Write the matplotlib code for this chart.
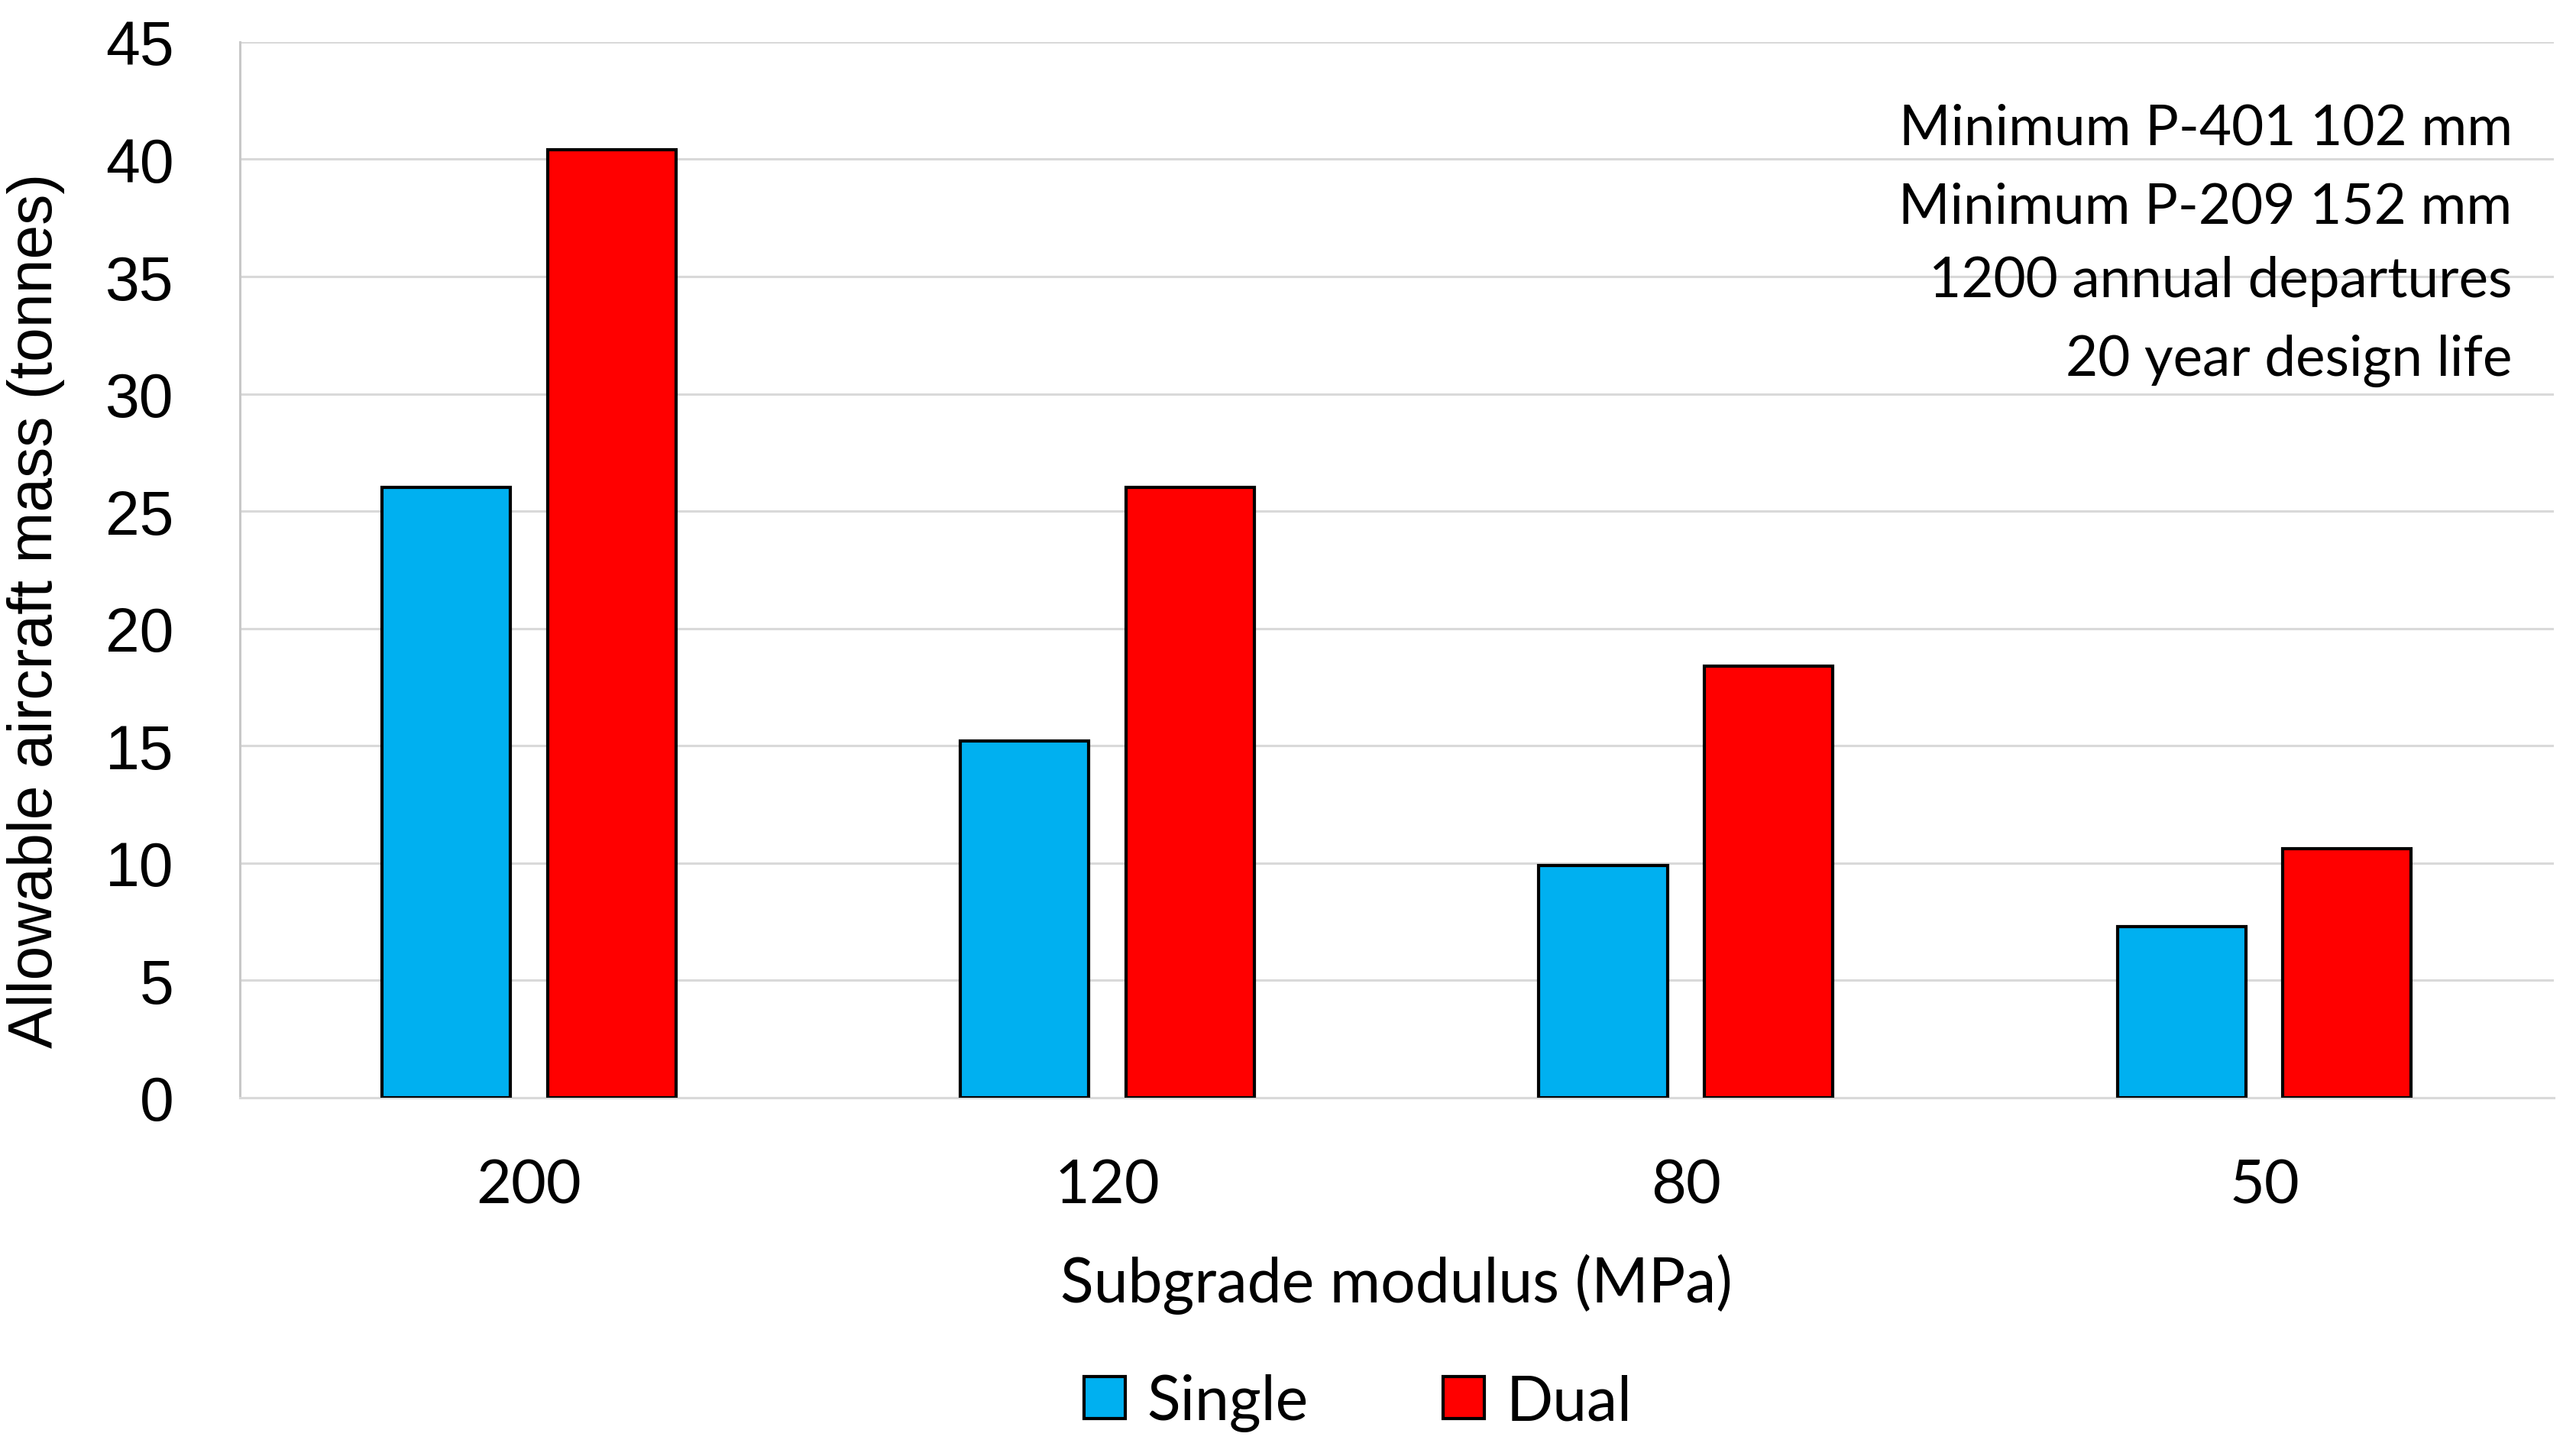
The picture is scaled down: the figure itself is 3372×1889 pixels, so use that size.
import matplotlib.pyplot as plt
import numpy as np

# ---------------- data ----------------
categories = ['200', '120', '80', '50']
single_mass = [26.0, 15.2, 9.9, 7.3]
dual_mass = [40.4, 26.0, 18.4, 10.6]
notes = ['Minimum P-401 102 mm', 'Minimum P-209 152 mm',
         '1200 annual departures', '20 year design life']

ARIAL = 'Liberation Sans'
CALIBRI = 'Lato'


def main():
    fig = plt.figure(figsize=(33.73, 18.9), dpi=100)
    ax = fig.add_axes([0.093, 0.2392, 0.898, 0.7312])

    x = np.arange(len(categories))
    w = 0.222
    ax.bar(x - 0.143, single_mass, width=w, color='#00B0F0', edgecolor='black',
           linewidth=3, label='Single', zorder=3)
    ax.bar(x + 0.143, dual_mass, width=w, color='#FF0000', edgecolor='black',
           linewidth=3, label='Dual', zorder=3)

    ax.set_xlim(-0.5, 3.5)
    ax.set_ylim(0, 45)
    ax.set_yticks(np.arange(0, 46, 5))
    ax.set_xticks(x)
    ax.set_xticklabels(categories, fontfamily=CALIBRI, fontsize=57)
    for lab in ax.get_yticklabels():
        lab.set_fontfamily(ARIAL)
        lab.set_fontsize(58)
    ax.tick_params(axis='both', length=0)
    ax.tick_params(axis='y', pad=62)
    ax.tick_params(axis='x', pad=57)

    ax.grid(axis='y', color='#D9D9D9', linewidth=2.2, zorder=0)
    for side in ['top', 'right']:
        ax.spines[side].set_visible(False)
    ax.spines['left'].set_color('#C8C8C8')
    ax.spines['bottom'].set_color('#D9D9D9')
    for side in ['left', 'bottom']:
        ax.spines[side].set_linewidth(2.2)

    ax.set_xlabel('Subgrade modulus (MPa)', fontfamily=CALIBRI, fontsize=58, va='baseline')
    ax.xaxis.set_label_coords(0.5, -0.1932)
    ax.set_ylabel('Allowable aircraft mass (tonnes)', fontfamily=ARIAL, fontsize=58, labelpad=38)
    ax.yaxis.label.set_y(0.462)

    baselines = [0.900, 0.845, 0.794, 0.740]
    for txt, yy in zip(notes, baselines):
        fig.text(0.975, yy, txt, ha='right', va='baseline', fontfamily=CALIBRI, fontsize=52.5)

    fig.legend(loc='center', bbox_to_anchor=(0.527, 0.028), ncol=2, frameon=False,
               prop={'family': CALIBRI, 'size': 58}, handlelength=0.67, handleheight=0.67,
               handletextpad=0.35, columnspacing=2.2)

    fig.savefig('out.png', dpi=100)


if __name__ == '__main__':
    main()
